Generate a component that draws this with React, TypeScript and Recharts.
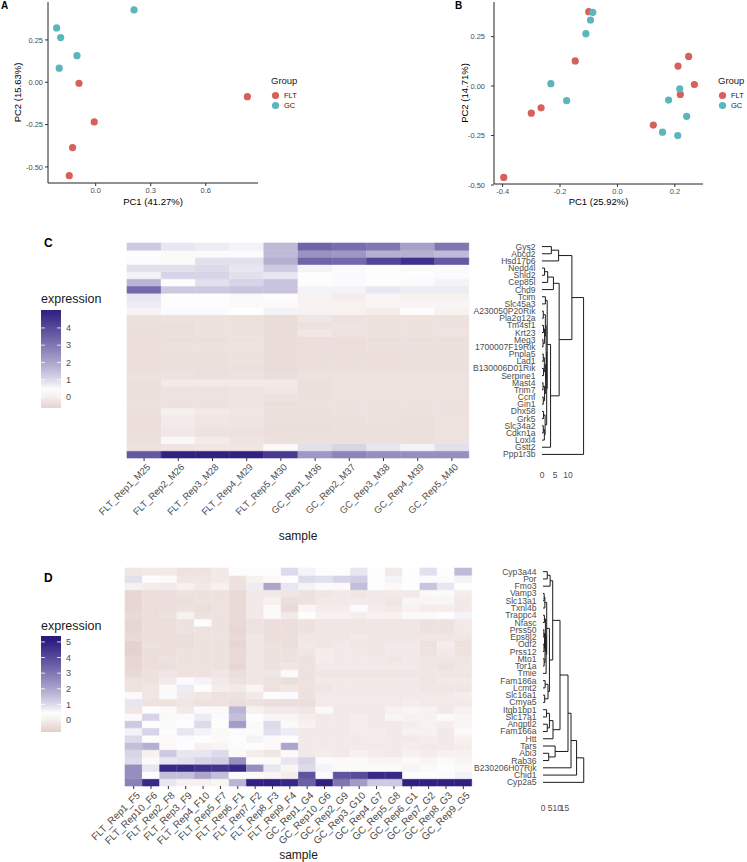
import type { ReactNode } from 'react';
import { ScatterChart, Scatter, XAxis, YAxis, BarChart, Bar, Cell, Legend } from 'recharts';

const FONT = '"Liberation Sans", Arial, Helvetica, sans-serif';
const FLT_COLOR = '#D6605A';
const GC_COLOR = '#5AB5BD';
const AXIS_TEXT = '#4d4d4d';

// ---- panel A: PCA ----
const aFltX = [-0.091, 0.827, -0.008, -0.126, -0.144];
const aFltY = [-0.006, -0.085, -0.234, -0.386, -0.552];
const aGcX = [0.209, -0.213, -0.191, -0.102, -0.199];
const aGcY = [0.427, 0.321, 0.264, 0.157, 0.083];

// ---- panel B: PCA ----
const bFltX = [-0.1, -0.147, -0.266, -0.3, -0.396, 0.248, 0.211, 0.268, 0.219, 0.125];
const bFltY = [0.376, 0.127, -0.11, -0.137, -0.462, 0.15, 0.101, 0.008, -0.042, -0.197];
const bGcX = [-0.086, -0.094, -0.11, -0.232, -0.177, 0.217, 0.178, 0.241, 0.157, 0.21];
const bGcY = [0.373, 0.334, 0.265, 0.012, -0.074, -0.014, -0.071, -0.153, -0.233, -0.25];

// ---- panel C: heatmap ----
const samplesC = [
  'FLT_Rep1_M25', 'FLT_Rep2_M26', 'FLT_Rep3_M28', 'FLT_Rep4_M29', 'FLT_Rep5_M30',
  'GC_Rep1_M36', 'GC_Rep2_M37', 'GC_Rep3_M38', 'GC_Rep4_M39', 'GC_Rep5_M40',
];
const genesC = [
  'Gys2', 'Abcd2', 'Hsd17b6', 'Nedd4l', 'Shld2', 'Cep85l', 'Chd9', 'Tcim', 'Slc45a3', 'A230050P20Rik',
  'Pla2g12a', 'Tm4sf1', 'Krt23', 'Meg3', '1700007F19Rik', 'Pnpla5', 'Lad1', 'B130006D01Rik', 'Serpine1', 'Mast4',
  'Trim7', 'Ccnf', 'Gin1', 'Dhx58', 'Grk5', 'Slc34a2', 'Cdkn1a', 'Loxl4', 'Gstt2', 'Ppp1r3b',
];
const exprC = [
  [1.3, 0.8, 0.7, 0.6, 1.6, 3.4, 3.2, 3.0, 2.1, 3.0],
  [0.4, 0.3, 0.5, 0.5, 1.6, 2.4, 2.3, 1.8, 1.8, 1.6],
  [0.5, 0.3, 0.9, 0.9, 1.8, 3.4, 3.3, 4.1, 4.6, 3.7],
  [0.9, 0.9, 1.0, 0.8, 1.3, 0.6, 0.5, 0.4, 0.3, 0.5],
  [0.6, 1.1, 1.1, 0.9, 0.8, 0.4, 0.5, 0.4, 0.4, 0.5],
  [1.7, 0.4, 0.9, 1.1, 1.4, 0.4, 0.5, 0.4, 0.5, 0.6],
  [3.3, 1.3, 1.3, 1.4, 1.4, 0.6, 0.6, 0.8, 0.7, 0.7],
  [0.8, 0.4, 0.4, 0.3, 0.4, 0.1, 0.0, 0.2, 0.1, 0.1],
  [0.7, 0.4, 0.4, 0.3, 0.3, 0.15, 0.1, 0.2, 0.2, 0.2],
  [0.15, 0.5, 0.5, 0.45, 0.6, 0.1, 0.1, 0.0, 0.35, 0.1],
  [-0.35, -0.3, -0.3, -0.35, -0.45, -0.2, -0.3, -0.3, -0.3, -0.3],
  [-0.35, -0.35, -0.3, -0.3, -0.45, -0.3, -0.25, -0.3, -0.3, -0.3],
  [-0.4, -0.35, -0.3, -0.3, -0.45, -0.15, -0.3, -0.3, -0.3, -0.25],
  [-0.4, -0.35, -0.35, -0.3, -0.45, -0.4, -0.4, -0.35, -0.35, -0.35],
  [-0.4, -0.3, -0.3, -0.3, -0.45, -0.4, -0.4, -0.35, -0.35, -0.35],
  [-0.4, -0.35, -0.35, -0.3, -0.45, -0.4, -0.4, -0.4, -0.35, -0.35],
  [-0.4, -0.35, -0.35, -0.3, -0.45, -0.4, -0.4, -0.4, -0.35, -0.35],
  [-0.4, -0.35, -0.35, -0.35, -0.45, -0.35, -0.35, -0.35, -0.35, -0.35],
  [-0.3, -0.3, -0.35, -0.3, -0.4, -0.3, -0.3, -0.3, -0.3, -0.3],
  [-0.35, -0.1, -0.1, -0.1, -0.1, -0.35, -0.3, -0.3, -0.3, -0.3],
  [-0.35, -0.3, -0.3, -0.25, -0.2, -0.35, -0.3, -0.3, -0.3, -0.3],
  [-0.35, -0.3, -0.3, -0.25, -0.3, -0.35, -0.3, -0.3, -0.3, -0.3],
  [-0.3, -0.3, -0.3, -0.25, -0.35, -0.3, -0.3, -0.3, -0.3, -0.3],
  [-0.35, 0.05, -0.1, -0.2, -0.35, -0.35, -0.3, -0.3, -0.3, -0.3],
  [-0.4, -0.05, -0.2, -0.25, -0.35, -0.35, -0.35, -0.3, -0.35, -0.3],
  [-0.4, -0.1, -0.25, -0.25, -0.4, -0.4, -0.35, -0.35, -0.35, -0.3],
  [-0.35, -0.15, -0.3, -0.3, -0.4, -0.4, -0.35, -0.35, -0.35, -0.3],
  [-0.35, 0.25, -0.05, -0.25, -0.35, -0.35, -0.35, -0.35, -0.35, -0.3],
  [-0.3, -0.25, -0.2, -0.2, 0.3, 0.9, 1.1, 0.8, 0.6, 0.9],
  [3.7, 5.0, 5.0, 5.0, 4.4, 2.3, 2.7, 2.5, 2.5, 2.5],
];
// hclust-style merges: negative = leaf (row), positive = earlier merge
const mergeLeftC = [-1, 1, -4, 3, 4, -8, -10, -12, -14, -16, -18, -20, -22, -24, -26, 15, 8, 10, 12, 14, 7, 18, 21, 23, 6, 25, 5, 2, 28];
const mergeRightC = [-2, -3, -5, -6, -7, -9, -11, -13, -15, -17, -19, -21, -23, -25, -27, -28, 9, 11, 13, 16, 17, 19, 22, 20, 24, -29, 26, 27, -30];
const mergeHeightC = [3.6, 6.4, 1.0, 2.2, 4.4, 1.3, 0.5, 0.6, 0.4, 0.5, 0.6, 0.4, 0.5, 0.6, 0.5, 0.9, 1.0, 0.9, 1.0, 1.2, 1.3, 1.4, 1.6, 1.8, 2.0, 3.3, 6.6, 11.5, 16.0];

// ---- panel D: heatmap ----
const samplesD = [
  'FLT_Rep1_F5', 'FLT_Rep10_F6', 'FLT_Rep2_F8', 'FLT_Rep3_F9', 'FLT_Rep4_F10', 'FLT_Rep5_F7', 'FLT_Rep6_F1',
  'FLT_Rep7_F2', 'FLT_Rep8_F3', 'FLT_Rep9_F4', 'GC_Rep1_G4', 'GC_Rep10_G6', 'GC_Rep2_G9', 'GC_Rep3_G10',
  'GC_Rep4_G7', 'GC_Rep5_G8', 'GC_Rep6_G1', 'GC_Rep7_G2', 'GC_Rep8_G3', 'GC_Rep9_G5',
];
const genesD = [
  'Cyp3a44', 'Por', 'Fmo3', 'Vamp3', 'Slc13a1', 'Txnl4b', 'Trappc4', 'Nfasc', 'Prss50', 'Eps8l2',
  'Odf2', 'Prss12', 'Mto1', 'Tor1a', 'Tmie', 'Fam186a', 'Lcmt2', 'Slc16a1', 'Cmya5', 'Itgb1bp1',
  'Slc17a1', 'Angptl2', 'Fam166a', 'Htt', 'Tars', 'Abi3', 'Rab36', 'B230206H07Rik', 'Chid1', 'Cyp2a5',
];
const exprD = [
  [-0.2, -0.1, -0.1, -0.3, -0.3, -0.1, 0.4, 0.4, 0.4, 1.0, 0.6, 0.4, 0.4, 0.8, 0.4, -0.1, 0.4, 0.9, 0.4, 1.6],
  [0.9, 0.4, 0.3, -0.2, -0.2, -0.1, -0.3, 0.1, 0.3, 0.4, 1.0, 0.9, 1.1, 1.2, 0.4, 0.6, 0.4, 0.5, 0.5, 0.6],
  [0.1, 0.0, -0.1, 0.1, -0.1, 0.1, -0.3, 0.7, 2.0, 0.8, 0.6, 0.5, 0.3, 1.5, 0.4, 0.3, 0.4, 1.4, 0.8, 0.4],
  [-0.6, -0.4, -0.4, -0.3, -0.3, -0.3, -0.5, -0.1, -0.1, -0.2, -0.3, -0.2, -0.1, -0.2, -0.1, -0.1, -0.1, 0.3, 0.3, 0.0],
  [-0.6, -0.4, -0.4, -0.4, -0.3, -0.3, -0.5, -0.1, 0.1, -0.4, -0.3, -0.1, -0.1, -0.1, -0.1, -0.2, 0.2, 0.2, 0.2, -0.1],
  [-0.6, -0.4, -0.4, -0.3, -0.4, -0.3, -0.5, -0.1, 0.3, -0.5, 0.2, 0.0, 0.0, 0.5, 0.0, -0.1, 0.1, 0.0, 0.0, -0.1],
  [-0.5, -0.4, -0.3, 0.1, -0.3, -0.3, -0.5, -0.1, 0.3, -0.1, 0.4, 0.1, 0.1, 0.0, 0.1, 0.1, 0.3, 0.3, 0.4, 0.6],
  [-0.6, -0.4, -0.4, -0.3, 0.4, -0.3, -0.5, -0.3, -0.4, -0.4, -0.3, -0.2, -0.2, -0.2, -0.2, -0.2, -0.2, -0.3, -0.3, -0.1],
  [-0.6, -0.4, -0.4, -0.3, -0.3, -0.3, -0.6, -0.3, -0.4, -0.4, -0.3, -0.2, -0.2, -0.2, -0.2, -0.2, -0.2, -0.3, -0.3, -0.1],
  [-0.5, -0.4, -0.4, -0.4, -0.3, -0.3, -0.5, -0.2, -0.4, -0.4, -0.2, -0.2, -0.2, -0.1, -0.2, -0.2, -0.2, -0.2, -0.2, -0.2],
  [-0.7, -0.3, -0.4, -0.4, -0.3, -0.3, -0.6, -0.2, -0.3, -0.4, -0.1, -0.2, -0.1, -0.2, -0.2, -0.1, -0.1, -0.3, 0.0, -0.3],
  [-0.7, -0.4, -0.4, -0.3, -0.3, -0.3, -0.5, -0.2, -0.3, -0.3, -0.2, 0.0, -0.1, -0.1, -0.2, -0.1, -0.1, -0.3, -0.1, -0.3],
  [-0.6, -0.4, -0.3, -0.3, -0.3, -0.3, -0.5, -0.2, -0.3, -0.3, -0.3, 0.0, -0.1, -0.1, -0.1, -0.2, -0.1, -0.2, -0.2, -0.2],
  [-0.6, -0.4, -0.4, -0.3, -0.3, -0.3, -0.6, -0.2, -0.3, -0.2, -0.3, -0.1, -0.1, -0.1, -0.1, -0.1, -0.1, -0.2, -0.3, -0.2],
  [-0.5, -0.3, -0.2, -0.3, -0.3, -0.2, -0.4, -0.2, -0.2, 0.5, -0.3, -0.2, -0.2, -0.2, -0.2, -0.2, -0.2, -0.2, -0.2, -0.2],
  [-0.3, -0.3, -0.1, 0.5, 0.6, -0.1, -0.3, -0.2, -0.3, -0.4, -0.3, -0.1, -0.1, -0.1, -0.1, -0.1, -0.1, -0.2, -0.1, -0.1],
  [-0.3, -0.2, 0.3, 0.7, 0.4, 0.0, -0.1, 0.2, -0.3, -0.2, -0.3, -0.2, -0.1, -0.1, -0.1, -0.1, -0.1, -0.2, -0.2, -0.2],
  [0.3, -0.2, 0.5, -0.1, -0.2, -0.3, -0.3, -0.1, 0.4, 0.5, -0.3, -0.1, -0.1, -0.1, -0.1, -0.1, -0.1, -0.1, -0.1, 0.0],
  [0.8, -0.3, -0.3, -0.2, -0.3, -0.3, -0.4, -0.3, -0.4, -0.4, -0.4, -0.1, -0.1, -0.1, -0.1, -0.1, 0.0, -0.1, -0.1, -0.1],
  [-0.2, 0.4, 0.3, -0.1, 0.5, 0.3, 1.7, 0.1, -0.1, -0.1, -0.2, 0.3, -0.1, -0.1, -0.1, 0.1, 0.2, 0.1, -0.1, 0.1],
  [0.3, 1.1, 0.3, 0.5, 0.7, 0.5, 1.5, 0.4, 0.2, 0.2, 0.0, -0.1, -0.1, 0.0, -0.1, 0.2, 0.1, 0.1, 0.3, 0.2],
  [1.3, 0.4, 0.5, 0.4, 1.0, 0.4, 2.2, 0.3, 1.0, 0.3, 0.1, -0.1, -0.1, 0.0, -0.1, -0.1, 0.0, 0.1, 0.0, 0.2],
  [0.6, 1.1, 0.4, 0.8, 0.6, 0.3, 0.5, 0.5, 0.9, 0.7, -0.1, -0.1, -0.1, 0.0, 0.0, -0.1, 0.1, 0.1, -0.1, 0.3],
  [1.0, 0.4, 0.3, 0.5, 0.4, 0.3, 0.4, 0.6, 0.5, 0.4, -0.1, -0.1, -0.1, -0.1, 0.0, -0.1, -0.1, 0.0, -0.1, 0.1],
  [1.5, 1.8, 0.3, 0.4, 0.1, 0.2, 0.5, 0.4, 0.3, 2.0, -0.1, -0.1, -0.1, -0.1, -0.1, -0.1, 0.0, -0.1, -0.1, 0.0],
  [1.1, 0.1, 1.3, 0.8, 0.8, 1.0, 0.3, 0.0, -0.2, 0.3, -0.1, 0.0, -0.1, 0.1, 0.0, -0.1, 0.1, 0.0, 0.1, 0.1],
  [1.0, 0.3, 0.8, 0.9, 1.1, 1.2, 2.5, 0.5, 0.3, 0.8, 1.1, 0.5, 0.3, 0.3, 0.2, 0.2, 0.3, 0.2, 0.3, 0.2],
  [2.5, 0.8, 4.8, 4.8, 4.6, 4.5, 4.8, 2.5, 0.8, 0.2, 1.0, 0.6, 0.3, 0.3, 0.3, 0.3, 0.2, 0.3, 0.4, 0.3],
  [2.5, 0.4, 1.5, 1.5, 2.0, 1.5, 0.5, 0.3, 0.2, 0.0, 3.8, 0.5, 3.8, 4.0, 4.8, 4.8, 0.4, 0.4, 0.5, 0.6],
  [2.8, 4.8, 0.8, 0.1, 0.1, 0.2, 1.7, 5.0, 5.0, 4.8, 3.5, 5.0, 3.0, 2.2, 1.3, 1.3, 5.0, 5.0, 5.0, 5.0],
];
const mergeLeftD = [-1, 1, -4, 3, -7, -9, -11, -13, 6, 9, 5, 11, 4, -16, -18, 14, 13, 2, -20, -22, 19, 21, 18, -26, -25, 23, 26, 27, 28];
const mergeRightD = [-2, -3, -5, -6, -8, -10, -12, -14, 7, 8, 10, -15, 12, -17, -19, 15, 16, 17, -21, -23, 20, -24, 22, -27, 24, 25, -28, -29, -30];
const mergeHeightD = [3.0, 5.0, 0.8, 1.3, 1.0, 0.6, 0.7, 0.8, 1.1, 1.4, 1.7, 2.2, 2.6, 1.5, 1.2, 3.5, 4.5, 6.8, 2.5, 3.0, 4.5, 7.0, 11.9, 4.0, 8.5, 17.5, 19.6, 23.5, 28.5];

// diverging fill: pinkish-brown (low) -> white -> indigo (high)
const LOW = [226, 206, 202];
const HIGH = [40, 24, 125];
const MID_VALUE = 0.45;

function expColor(v: number): string {
  let c: number[];
  if (v >= MID_VALUE) {
    const t = Math.pow(Math.min(1, (v - MID_VALUE) / (5.2 - MID_VALUE)), 0.85);
    c = HIGH.map((h) => 255 + (h - 255) * t);
  } else {
    const t = Math.min(1, (MID_VALUE - v) / (MID_VALUE + 0.8));
    c = LOW.map((l) => 255 + (l - 255) * t);
  }
  return `rgb(${c.map((x) => Math.round(x)).join(',')})`;
}

function dendroSegments(left: number[], right: number[], height: number[], nLeaves: number) {
  const pos: number[] = [];
  const hh: number[] = [];
  const node = (ref: number) => (ref < 0 ? { y: -ref - 1, h: 0 } : { y: pos[ref - 1], h: hh[ref - 1] });
  const toY = (row: number) => nLeaves - 0.5 - row;
  return left.map((l, i) => {
    const a = node(l);
    const b = node(right[i]);
    pos[i] = (a.y + b.y) / 2;
    hh[i] = height[i];
    return [
      { h: a.h, y: toY(a.y) },
      { h: height[i], y: toY(a.y) },
      { h: height[i], y: toY(b.y) },
      { h: b.h, y: toY(b.y) },
    ];
  });
}

function Dot(props: any): ReactNode {
  const { cx, cy, fill } = props;
  if (cx == null || cy == null) return <g />;
  return <circle cx={cx} cy={cy} r={3.6} fill={fill} />;
}

function NoShape(): ReactNode {
  return <g />;
}

function GroupLegend(): ReactNode {
  const items: [string, string][] = [['FLT', FLT_COLOR], ['GC', GC_COLOR]];
  return (
    <div style={{ fontFamily: FONT, color: '#1a1a1a' }}>
      <div style={{ fontSize: 9.5, lineHeight: '11px', marginBottom: 5 }}>Group</div>
      {items.map(([name, color]) => (
        <div key={name} style={{ display: 'flex', alignItems: 'center', height: 9.5, fontSize: 7.5 }}>
          <svg width={9} height={9} style={{ display: 'block' }}>
            <circle cx={4.5} cy={4.5} r={3.6} fill={color} />
          </svg>
          <span style={{ marginLeft: 4 }}>{name}</span>
        </div>
      ))}
    </div>
  );
}

interface PcaProps {
  left: number;
  width: number;
  marginRight: number;
  fltX: number[];
  fltY: number[];
  gcX: number[];
  gcY: number[];
  xDomain: [number, number];
  yDomain: [number, number];
  xTicks: number[];
  xDigits: number;
  xLabel: string;
  yLabel: string;
  xAxisHeight: number;
  yTickMargin: number;
  yLabelOffset: number;
  legendLeft: number;
}

function PcaPanel(p: PcaProps): ReactNode {
  const flt = p.fltX.map((x, i) => ({ x, y: p.fltY[i] }));
  const gc = p.gcX.map((x, i) => ({ x, y: p.gcY[i] }));
  const tickStyle = { fontSize: 7.5, fill: AXIS_TEXT, fontFamily: FONT };
  return (
    <div style={{ position: 'absolute', left: p.left, top: 0 }}>
      <ScatterChart width={p.width} height={215} margin={{ top: 2, right: p.marginRight, bottom: 0, left: 0 }}>
        <XAxis
          type="number"
          dataKey="x"
          domain={p.xDomain}
          allowDataOverflow
          ticks={p.xTicks}
          tickFormatter={(v: number) => v.toFixed(p.xDigits)}
          height={p.xAxisHeight}
          tick={tickStyle}
          tickSize={3}
          tickMargin={2}
          axisLine={{ stroke: '#222' }}
          tickLine={{ stroke: '#333' }}
          label={{ value: p.xLabel, position: 'insideBottom', offset: 10, fontSize: 9.5, fill: '#000', fontFamily: FONT }}
        />
        <YAxis
          type="number"
          dataKey="y"
          domain={p.yDomain}
          allowDataOverflow
          ticks={[-0.5, -0.25, 0, 0.25]}
          tickFormatter={(v: number) => v.toFixed(2)}
          width={48}
          tick={tickStyle}
          tickSize={3}
          tickMargin={p.yTickMargin}
          axisLine={{ stroke: '#222' }}
          tickLine={{ stroke: '#333' }}
          label={{
            value: p.yLabel,
            angle: -90,
            position: 'insideLeft',
            offset: p.yLabelOffset,
            fontSize: 9.5,
            fill: '#000',
            fontFamily: FONT,
            style: { textAnchor: 'middle' },
          }}
        />
        <Scatter name="FLT" data={flt} fill={FLT_COLOR} shape={Dot} isAnimationActive={false} />
        <Scatter name="GC" data={gc} fill={GC_COLOR} shape={Dot} isAnimationActive={false} />
        <Legend
          layout="horizontal"
          align="center"
          verticalAlign="middle"
          width={50}
          content={<GroupLegend />}
          wrapperStyle={{ left: p.legendLeft, top: 75 }}
        />
      </ScatterChart>
    </div>
  );
}

interface ExprLegendProps {
  gradId: string;
  vmax: number;
  vmin: number;
  barHeight: number;
  ticks: number[];
  gap: number;
}

function ExprLegend(p: ExprLegendProps): ReactNode {
  const stops = Array.from({ length: 21 }, (_, k) => p.vmax - ((p.vmax - p.vmin) * k) / 20);
  const yOf = (v: number) => ((p.vmax - v) / (p.vmax - p.vmin)) * p.barHeight;
  return (
    <div style={{ fontFamily: FONT }}>
      <div style={{ fontSize: 12.5, lineHeight: '14px', color: '#1a1a1a', marginBottom: p.gap }}>expression</div>
      <svg width={50} height={p.barHeight} style={{ display: 'block', overflow: 'visible' }}>
        <defs>
          <linearGradient id={p.gradId} x1="0" y1="0" x2="0" y2="1">
            {stops.map((v, k) => (
              <stop key={k} offset={k / 20} stopColor={expColor(v)} />
            ))}
          </linearGradient>
        </defs>
        <rect x={0} y={0} width={20} height={p.barHeight} fill={`url(#${p.gradId})`} />
        {p.ticks.map((t) => (
          <g key={t}>
            <line x1={0} x2={4} y1={yOf(t)} y2={yOf(t)} stroke="#fff" strokeWidth={0.8} />
            <line x1={16} x2={20} y1={yOf(t)} y2={yOf(t)} stroke="#fff" strokeWidth={0.8} />
            <text x={25} y={yOf(t)} dy="0.35em" fontSize={9} fill={AXIS_TEXT}>
              {t}
            </text>
          </g>
        ))}
      </svg>
    </div>
  );
}

function SampleTick(props: any): ReactNode {
  const { x, y, payload, fontSize } = props;
  return (
    <g transform={`translate(${x + 2},${y})`}>
      <text transform="rotate(-45)" textAnchor="end" dy="0.71em" fontSize={fontSize} fill={AXIS_TEXT} fontFamily={FONT}>
        {payload.value}
      </text>
    </g>
  );
}

interface HeatProps {
  top: number;
  samples: string[];
  genes: string[];
  expr: number[][];
  plotLeft: number;
  plotWidth: number;
  plotHeight: number;
  axisHeight: number;
  labelOffset: number;
  labelFont: number;
  legend: ExprLegendProps;
  legendTop: number;
}

function Heatmap(p: HeatProps): ReactNode {
  const rows = p.samples.map((s) => {
    const r: Record<string, string | number> = { sample: s };
    p.genes.forEach((_, i) => {
      r[`g${i}`] = 1;
    });
    return r;
  });
  const order = p.genes.map((_, i) => p.genes.length - 1 - i);
  const margin = { top: 13, left: p.plotLeft, right: 10, bottom: 0 };
  return (
    <div style={{ position: 'absolute', left: 0, top: p.top }}>
      <BarChart
        width={p.plotLeft + p.plotWidth + 10}
        height={13 + p.plotHeight + p.axisHeight}
        data={rows}
        margin={margin}
        barCategoryGap={0}
        barGap={0}
      >
        <XAxis
          dataKey="sample"
          interval={0}
          height={p.axisHeight}
          axisLine={false}
          tickSize={3}
          tickMargin={2}
          tickLine={{ stroke: '#333' }}
          tick={<SampleTick fontSize={p.labelFont} />}
          label={{ value: 'sample', position: 'insideBottom', offset: p.labelOffset, fontSize: 12, fill: '#1a1a1a', fontFamily: FONT }}
        />
        <YAxis hide type="number" domain={[0, p.genes.length]} />
        {order.map((gi) => (
          <Bar key={gi} dataKey={`g${gi}`} stackId="h" isAnimationActive={false}>
            {p.samples.map((s, j) => {
              const c = expColor(p.expr[gi][j]);
              return <Cell key={s} fill={c} stroke={c} strokeWidth={0.6} />;
            })}
          </Bar>
        ))}
        <Legend
          layout="horizontal"
          align="center"
          verticalAlign="middle"
          width={80}
          content={<ExprLegend {...p.legend} />}
          wrapperStyle={{ left: 41, top: p.legendTop }}
        />
      </BarChart>
    </div>
  );
}

interface DendroProps {
  top: number;
  zeroX: number;
  pxPerUnit: number;
  maxH: number;
  ticks: number[];
  genes: string[];
  left: number[];
  right: number[];
  height: number[];
  plotHeight: number;
  tickMargin: number;
}

function Dendrogram(p: DendroProps): ReactNode {
  const n = p.genes.length;
  const segs = dendroSegments(p.left, p.right, p.height, n);
  const yTicks = p.genes.map((_, i) => n - 0.5 - i);
  const labelWidth = 110;
  const plotWidth = p.maxH * p.pxPerUnit;
  const geneTick = (props: any) => {
    const idx = Math.round(n - 0.5 - props.payload.value);
    return (
      <text x={props.x} y={props.y} dy="0.35em" textAnchor="end" fontSize={8.6} fill={AXIS_TEXT} fontFamily={FONT}>
        {p.genes[idx]}
      </text>
    );
  };
  return (
    <div style={{ position: 'absolute', left: p.zeroX - labelWidth, top: p.top }}>
      <ScatterChart
        width={labelWidth + plotWidth + 6}
        height={13 + p.plotHeight + 30}
        margin={{ top: 13, right: 6, bottom: 0, left: 0 }}
      >
        <XAxis
          type="number"
          dataKey="h"
          domain={[0, p.maxH]}
          allowDataOverflow
          ticks={p.ticks}
          interval={0}
          height={30}
          axisLine={false}
          tickLine={false}
          tickSize={0}
          tickMargin={p.tickMargin}
          tick={{ fontSize: 8.5, fill: AXIS_TEXT, fontFamily: FONT }}
        />
        <YAxis
          type="number"
          dataKey="y"
          domain={[0, n]}
          ticks={yTicks}
          interval={0}
          width={labelWidth}
          axisLine={false}
          tickLine={false}
          tickSize={0}
          tickMargin={6.5}
          tick={geneTick}
        />
        {segs.map((s, i) => (
          <Scatter
            key={i}
            data={s}
            line={{ stroke: '#1a1a1a', strokeWidth: 1 }}
            lineType="joint"
            shape={NoShape}
            isAnimationActive={false}
          />
        ))}
      </ScatterChart>
    </div>
  );
}

const letterStyle = (left: number, top: number, size: number) => ({
  position: 'absolute' as const,
  left,
  top,
  fontFamily: FONT,
  fontWeight: 700,
  fontSize: size,
  lineHeight: 1,
  color: '#000',
});

export default function App(): ReactNode {
  return (
    <div style={{ position: 'absolute', left: 0, top: 0, width: 747, height: 862, background: '#fff', overflow: 'hidden' }}>
      <PcaPanel
        left={0}
        width={330}
        marginRight={72}
        fltX={aFltX}
        fltY={aFltY}
        gcX={aGcX}
        gcY={aGcY}
        xDomain={[-0.26, 0.885]}
        yDomain={[-0.595, 0.474]}
        xTicks={[0, 0.3, 0.6]}
        xDigits={1}
        xLabel="PC1 (41.27%)"
        yLabel="PC2 (15.63%)"
        xAxisHeight={32}
        yTickMargin={2}
        yLabelOffset={18}
        legendLeft={271}
      />
      <PcaPanel
        left={446}
        width={301}
        marginRight={44}
        fltX={bFltX}
        fltY={bFltY}
        gcX={bGcX}
        gcY={bGcY}
        xDomain={[-0.43, 0.298]}
        yDomain={[-0.495, 0.425]}
        xTicks={[-0.4, -0.2, 0, 0.2]}
        xDigits={1}
        xLabel="PC1 (25.92%)"
        yLabel="PC2 (14.71%)"
        xAxisHeight={31}
        yTickMargin={6}
        yLabelOffset={19}
        legendLeft={272}
      />
      <div style={letterStyle(1, 1, 10)}>A</div>
      <div style={letterStyle(455, 1, 10)}>B</div>

      <Heatmap
        top={230}
        samples={samplesC}
        genes={genesC}
        expr={exprC}
        plotLeft={127}
        plotWidth={342}
        plotHeight={215}
        axisHeight={92}
        labelOffset={10}
        labelFont={9.5}
        legendTop={62}
        legend={{ gradId: 'gradC', vmax: 5.04, vmin: -0.64, barHeight: 98, ticks: [0, 1, 2, 3, 4], gap: 4 }}
      />
      <Dendrogram
        top={230}
        zeroX={541.7}
        pxPerUnit={2.6}
        maxH={16.5}
        ticks={[0, 5, 10]}
        genes={genesC}
        left={mergeLeftC}
        right={mergeRightC}
        height={mergeHeightC}
        plotHeight={215}
        tickMargin={14}
      />
      <div style={letterStyle(44, 237, 12)}>C</div>

      <Heatmap
        top={555}
        samples={samplesD}
        genes={genesD}
        expr={exprD}
        plotLeft={125}
        plotWidth={347}
        plotHeight={218}
        axisHeight={76}
        labelOffset={3}
        labelFont={10}
        legendTop={64}
        legend={{ gradId: 'gradD', vmax: 5.38, vmin: -0.77, barHeight: 96, ticks: [0, 1, 2, 3, 4, 5], gap: 3 }}
      />
      <Dendrogram
        top={555}
        zeroX={542.5}
        pxPerUnit={1.43}
        maxH={29.5}
        ticks={[0, 5, 10, 15]}
        genes={genesD}
        left={mergeLeftD}
        right={mergeRightD}
        height={mergeHeightD}
        plotHeight={218}
        tickMargin={19}
      />
      <div style={letterStyle(44, 572, 12)}>D</div>
    </div>
  );
}
